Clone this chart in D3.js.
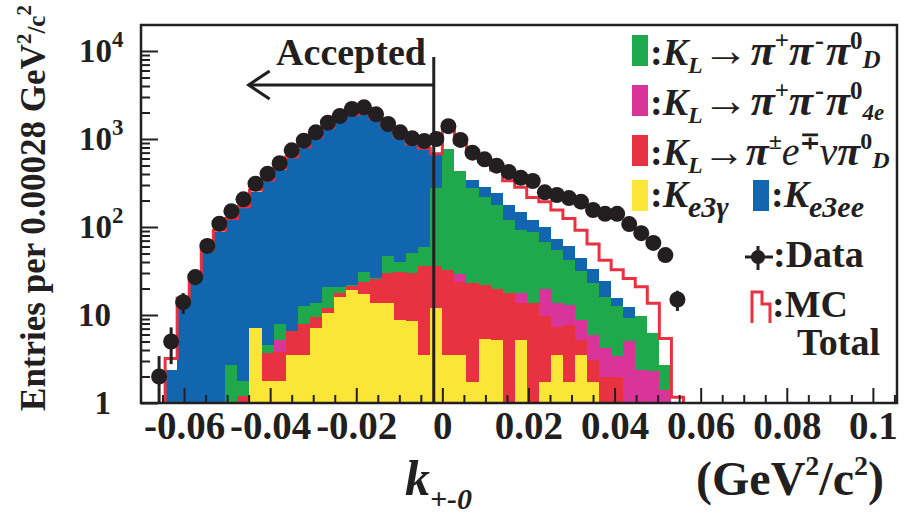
<!DOCTYPE html>
<html><head><meta charset="utf-8">
<script src="https://cdn.jsdelivr.net/npm/d3@7"></script>
<style>
body{margin:0;background:#fff}
svg{display:block}
text{font-family:"Liberation Serif","Times New Roman",serif;font-weight:bold;fill:#231f20}
</style>
</head><body>
<svg id="c" width="912" height="515"></svg>
<script>
// ---------------- data ----------------
const binWidth = 0.0028;
const firstBinLow = -0.0672;
// per-bin counts, bins from -0.0672 upward (44 bins)
const yellowKe3g  = [0,0,0,0,0,0,0,0, 7.1,1.8,1.8,3.5,3.5,7.1,10.4,15.9,19.2,17.3,13.8,13.8,8.8,8.6,3.5,12,
                     3.5,3.5,1.75,5.3,5.2,0,5.2,0,1.75,3.5,1.75,3.5,1.75,0,0,0,0,0,0,0];
const redPiENuPi0D = [0,0,0,0,0,0,0, 1.2,0,1.9,2.0,3.1,4.5,2.3,1.6,2.0,2.1,6.6,11.7,16.4,22.2,21.2,32.5,24,
                     29,20,21.5,16.6,14.8,17.6,8.6,13.6,8,3.9,6,1.7,1.35,2,2,0,0,0,0,0];
const magentaPPP4e = [0,0,0,0,0,0,0,0,0,0, 1.4, 0,0,0,0,0,0,0,0,0,0,0,0,0,
                     0,6,0,0,0,0,3.8,0,9.9,6.2,5.3,3.6,2.8,2.2,1.4,5,2.4,2.3,1.4,0];
const greenPPP0D   = [0,0,0,0,0,0, 2.7,0.6,0,0.9,2.8,0,4.7,4.2,8.6,2.7,0.7,7.1,0.6,16.7,9.3,21.2,23,239,
                     731,399,252,199,158,102,74,74,48,41,29,23,17.4,11.9,9.2,4.2,7.4,4,1.3,0];
const blueKe3ee    = [0,2.4,14.2,26,52,88,117,161,243,325,442,603,787,1026,1309,1629,1858,1909,1674,1293,1010,819,716,383,
                     0,0,67,66,64,58,57,32,33,19,19,13,9.7,8.3,3.1,3,0,0,0,0];
const mcTotal      = [0,3.2,15.5,28.5,56,92,125,170,263,342,464,629,818,1062,1350,1675,1900,1960,1720,1360,1065,880,785,680,
                     1300,900,690,552,444,336,282,217,194,156,125,92,64,42,32.6,26,21,13.6,5.4,1.16];
const dataCounts   = [2,5,14,27,61,109,151,206,311,403,530,744,957,1191,1532,1825,2193,2291,1907,1480,1191,1018,949,1000,
                     1400,975,699,588,497,422,363,333,248,231,213,194,156,141,141,108,85,66,48,15];

const xTickValues = [-0.06,-0.04,-0.02,0,0.02,0.04,0.06,0.08,0.1];
const xTickLabels = ["-0.06","-0.04","-0.02","0","0.02","0.04","0.06","0.08","0.1"];
const yTickValues = [1,10,100,1000,10000];
const yTickExp    = ["", "", "2", "3", "4"];
const yTickBase   = ["1","10","10","10","10"];
const cutValue = -0.002;
const arrowTip = -0.045;

// ---------------- layout ----------------
const X0 = 141, X1 = 897, Y0 = 403, Y1 = 25;
const svg = d3.select("#c");
const x = d3.scaleLinear().domain([-0.07, 0.1056]).range([X0, X1]);
const y = d3.scaleLog().domain([1, 19740]).range([Y0, Y1]);

const colors = {yellow:"#fbe536", red:"#e83141", magenta:"#d8349a", green:"#1fa84c", blue:"#1266b0"};

svg.append("clipPath").attr("id","clip").append("rect")
  .attr("x",X0).attr("y",Y1).attr("width",X1-X0).attr("height",Y0-Y1);
const plot = svg.append("g").attr("clip-path","url(#clip)");

const bins = yellowKe3g.map((_, i) => ({
  x0: firstBinLow + i*binWidth, x1: firstBinLow + (i+1)*binWidth,
  yellow: yellowKe3g[i], red: redPiENuPi0D[i], magenta: magentaPPP4e[i],
  green: greenPPP0D[i], blue: blueKe3ee[i]
}));
const keys = ["yellow","red","magenta","green","blue"];
const layers = d3.stack().keys(keys)(bins);
layers.forEach(layer => {
  plot.append("g").attr("fill", colors[layer.key]).attr("shape-rendering","crispEdges")
    .selectAll("rect")
    .data(layer.filter(d => d[1] > Math.max(d[0], 1)))
    .join("rect")
    .attr("x", d => x(d.data.x0))
    .attr("width", d => x(d.data.x1) - x(d.data.x0))
    .attr("y", d => y(d[1]))
    .attr("height", d => y(Math.max(d[0], 1)) - y(d[1]));
});

// MC total outline
const mcPts = [[bins[0].x0, 0.5]];
bins.forEach((b, i) => { mcPts.push([b.x0, mcTotal[i]], [b.x1, mcTotal[i]]); });
mcPts.push([bins[bins.length-1].x1, 0.5]);
plot.append("path")
  .attr("d", d3.line().x(d => x(d[0])).y(d => y(Math.max(d[1], 0.5)))(mcPts))
  .attr("fill","none").attr("stroke", colors.red).attr("stroke-width",3).attr("stroke-linejoin","miter");

// data points
const dg = plot.append("g");
bins.forEach((b, i) => {
  const n = dataCounts[i];
  if (!n) return;
  const cx = x((b.x0 + b.x1)/2), e = Math.sqrt(n);
  dg.append("line").attr("x1",cx).attr("x2",cx)
    .attr("y1", y(n+e)).attr("y2", y(Math.max(n-e, 0.5)))
    .attr("stroke","#231f20").attr("stroke-width",3);
  dg.append("circle").attr("cx",cx).attr("cy",y(n)).attr("r",8).attr("fill","#231f20");
});

// cut line + accepted arrow
svg.append("line").attr("x1",x(cutValue)).attr("x2",x(cutValue)).attr("y1",57).attr("y2",Y0)
  .attr("stroke","#231f20").attr("stroke-width",3);
svg.append("line").attr("x1",x(cutValue)).attr("x2",x(arrowTip)).attr("y1",85).attr("y2",85)
  .attr("stroke","#231f20").attr("stroke-width",3);
svg.append("path")
  .attr("d", `M${x(arrowTip)+21},71 L${x(arrowTip)},85 L${x(arrowTip)+21},99`)
  .attr("fill","none").attr("stroke","#231f20").attr("stroke-width",3);
svg.append("text").attr("x", 351).attr("y", 65).attr("text-anchor","middle")
  .attr("font-size",38).text("Accepted");

// ---------------- axes ----------------
const ax = svg.append("g").attr("transform",`translate(0,${Y0})`);
ax.call(d3.axisBottom(x).tickValues(xTickValues).tickSize(-15).tickPadding(8)
  .tickFormat((d,i) => xTickLabels[i]));
const xMinor = d3.range(-13, 22).map(k => k*0.005).filter(v => !xTickValues.some(t => Math.abs(t-v) < 1e-9));
const axm = svg.append("g").attr("transform",`translate(0,${Y0})`);
axm.call(d3.axisBottom(x).tickValues(xMinor).tickSize(-8).tickFormat(""));
[ax, axm].forEach(g => {
  g.select(".domain").remove();
  g.selectAll(".tick line").attr("stroke","#231f20").attr("stroke-width",2);
});
ax.selectAll(".tick text").attr("font-size",39).attr("fill","#231f20")
  .attr("font-family",'"Liberation Serif",serif').attr("font-weight","bold");

const ay = svg.append("g").attr("transform",`translate(${X0},0)`);
ay.call(d3.axisLeft(y).tickValues(yTickValues).tickSize(-17).tickFormat(""));
const yMinor = [];
yTickValues.forEach(v => { for (let m = 2; m <= 9; m++) if (v*m <= 19740) yMinor.push(v*m); });
const aym = svg.append("g").attr("transform",`translate(${X0},0)`);
aym.call(d3.axisLeft(y).tickValues(yMinor).tickSize(-9).tickFormat(""));
[ay, aym].forEach(g => {
  g.select(".domain").remove();
  g.selectAll(".tick line").attr("stroke","#231f20").attr("stroke-width",2);
});
yTickValues.forEach((v, i) => {
  const t = svg.append("text").attr("y", y(v) + 11).attr("font-size", 33);
  if (yTickExp[i]) {
    t.attr("x", 79);
    t.append("tspan").text(yTickBase[i]);
    t.append("tspan").attr("font-size",23).attr("dy",-15).text(yTickExp[i]);
  } else {
    t.attr("x", 111).attr("text-anchor","end").text(yTickBase[i]);
  }
});

// frame
svg.append("rect").attr("x",X0).attr("y",Y1).attr("width",X1-X0).attr("height",Y0-Y1)
  .attr("fill","none").attr("stroke","#231f20").attr("stroke-width",2.5);

// axis titles
const yt = svg.append("text").attr("transform","translate(45,208) rotate(-90)")
  .attr("text-anchor","middle").attr("font-size",35);
yt.append("tspan").text("Entries per 0.00028 GeV");
yt.append("tspan").attr("font-size",21).attr("dy",-14).text("2");
yt.append("tspan").attr("font-size",25).attr("dy",14).text("/c");
yt.append("tspan").attr("font-size",21).attr("dy",-14).text("2");

const xt = svg.append("text").attr("x",405).attr("y",495).attr("font-size",50);
xt.append("tspan").attr("font-style","italic").text("k");
xt.append("tspan").attr("font-style","italic").attr("font-size",30).attr("dy",14).text("+-0");

const xu = svg.append("text").attr("x",696).attr("y",495).attr("font-size",48);
xu.append("tspan").text("(GeV");
xu.append("tspan").attr("font-size",28).attr("dy",-20).text("2");
xu.append("tspan").attr("dy",20).text("/c");
xu.append("tspan").attr("font-size",28).attr("dy",-20).text("2");
xu.append("tspan").attr("dy",20).text(")");

// ---------------- legend ----------------
function rich(x0, base, parts) {
  const t = svg.append("text").attr("x", x0).attr("y", base);
  parts.forEach(p => {
    t.append("tspan").attr("y", base + (p.o || 0)).attr("dx", p.dx || 0)
      .attr("font-size", p.s || 38).attr("font-style", p.i ? "italic" : "normal")
      .attr("font-weight", p.w || "bold").text(p.t);
  });
}
function box(x0, y0, w, h, c) {
  svg.append("rect").attr("x",x0).attr("y",y0).attr("width",w).attr("height",h).attr("fill",c);
}
box(632, 35, 16, 31, colors.green);
rich(650, 65, [{t:":"},{t:"K",i:1},{t:"L",s:24,i:1,o:8},{t:"→",s:46,w:"normal",o:1},
  {t:"π",s:44,i:1,dx:2},{t:"+",s:25,o:-16},{t:"π",s:44,i:1},{t:"-",s:27,o:-16,dx:2},{t:"π",s:44,i:1,dx:2},
  {t:"0",s:25,o:-16},{t:"D",s:25,i:1,o:3}]);
box(632, 85, 16, 31, colors.magenta);
rich(650, 115, [{t:":"},{t:"K",i:1},{t:"L",s:24,i:1,o:8},{t:"→",s:46,w:"normal",o:1},
  {t:"π",s:44,i:1,dx:2},{t:"+",s:25,o:-16},{t:"π",s:44,i:1},{t:"-",s:27,o:-16,dx:2},{t:"π",s:44,i:1,dx:2},
  {t:"0",s:25,o:-16},{t:"4e",s:23,i:1,o:5}]);
box(632, 135, 16, 31, colors.red);
rich(650, 165, [{t:":"},{t:"K",i:1},{t:"L",s:24,i:1,o:8},{t:"→",s:42,w:"normal",o:1},
  {t:"π",s:42,i:1,dx:1},{t:"±",s:24,o:-16},{t:"e",s:40,i:1,w:"normal"},{t:"∓",s:24,o:-16},{t:"ν",s:40,i:1,w:"normal"},
  {t:"π",s:42,i:1},{t:"0",s:24,o:-16},{t:"D",s:24,i:1,o:3}]);
box(632, 180, 16, 31, colors.yellow);
rich(650, 207, [{t:":"},{t:"K",i:1},{t:"e3γ",s:30,i:1,o:10}]);
box(753, 180, 16, 31, colors.blue);
rich(771, 207, [{t:":"},{t:"K",i:1},{t:"e3ee",s:30,i:1,o:10}]);

// data marker
svg.append("line").attr("x1",745).attr("x2",773).attr("y1",257).attr("y2",257).attr("stroke","#231f20").attr("stroke-width",3);
svg.append("line").attr("x1",758).attr("x2",758).attr("y1",246).attr("y2",270).attr("stroke","#231f20").attr("stroke-width",3);
svg.append("circle").attr("cx",758).attr("cy",257).attr("r",7).attr("fill","#231f20");
rich(773, 267, [{t:":Data"}]);
// MC marker
svg.append("path").attr("d","M752,323 L752,292 L762,292 L762,304 L770,304 L770,323")
  .attr("fill","none").attr("stroke",colors.red).attr("stroke-width",3);
rich(772, 317, [{t:":MC"}]);
rich(797, 355, [{t:"Total"}]);
</script>
</body></html>
